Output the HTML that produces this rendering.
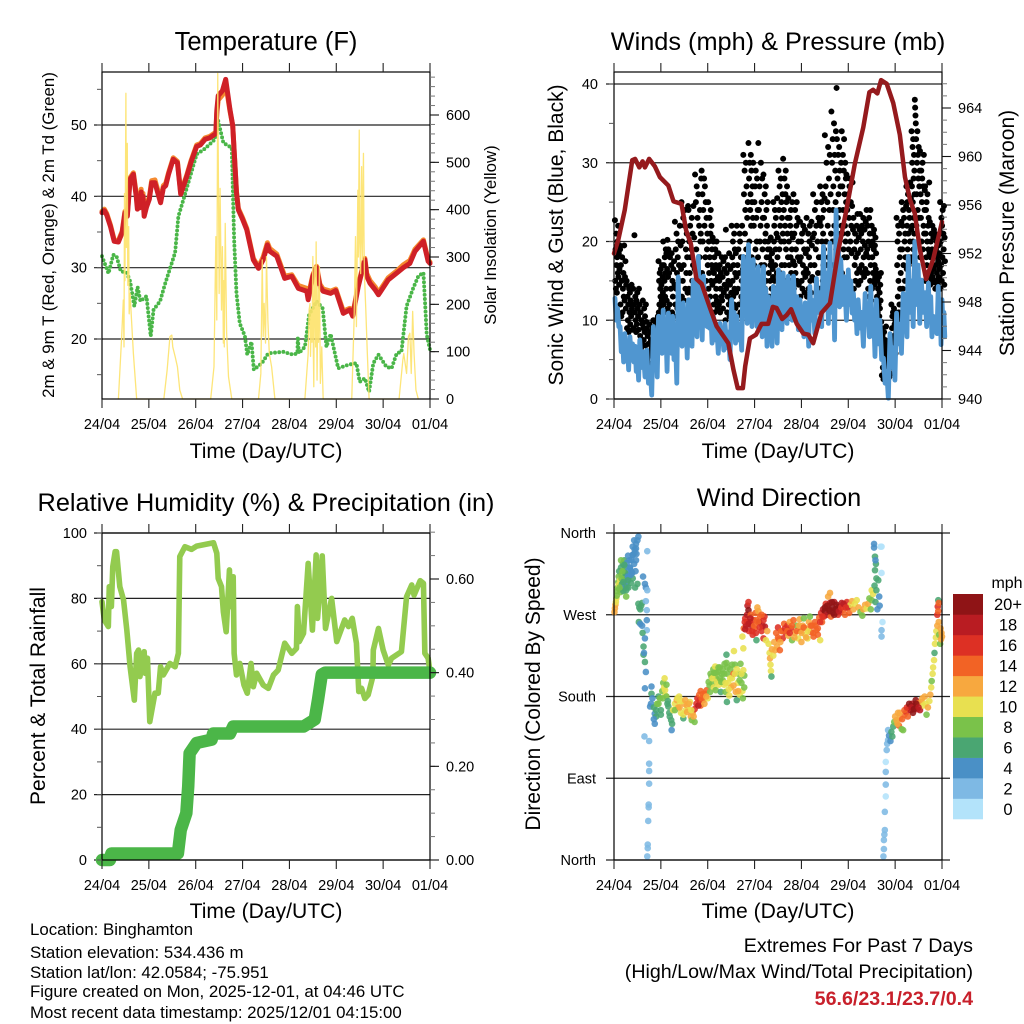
<!DOCTYPE html>
<html lang="en">
<head>
<meta charset="utf-8">
<title>Binghamton Station Meteogram</title>
<style>
html,body{margin:0;padding:0;background:#fff;}
svg{display:block;font-family:"Liberation Sans",Arial,sans-serif;fill:#000;}
</style>
</head>
<body>
<svg id="chart" width="1024" height="1024" viewBox="0 0 1024 1024" xmlns="http://www.w3.org/2000/svg">
<rect x="0" y="0" width="1024" height="1024" fill="#fff"/>
<g id="p1"></g>
<g id="p2"></g>
<g id="p3"></g>
<g id="p4"></g>
<g id="cbar"></g>

<text x="266" y="50" font-size="25.5" text-anchor="middle">Temperature (F)</text>
<text x="778" y="50" font-size="25.3" text-anchor="middle">Winds (mph) &amp; Pressure (mb)</text>
<text x="266" y="511" font-size="25.3" text-anchor="middle">Relative Humidity (%) &amp; Precipitation (in)</text>
<text x="779" y="506" font-size="25.3" text-anchor="middle">Wind Direction</text>

<text x="266" y="458" font-size="21.1" text-anchor="middle">Time (Day/UTC)</text>
<text x="778" y="458" font-size="21.1" text-anchor="middle">Time (Day/UTC)</text>
<text x="266" y="918" font-size="21.1" text-anchor="middle">Time (Day/UTC)</text>
<text x="778" y="918" font-size="21.1" text-anchor="middle">Time (Day/UTC)</text>

<text transform="translate(54,235) rotate(-90)" font-size="16.9" text-anchor="middle">2m &amp; 9m T (Red, Orange) &amp; 2m Td (Green)</text>
<text transform="translate(496,235) rotate(-90)" font-size="16.8" text-anchor="middle">Solar Insolation (Yellow)</text>
<text transform="translate(563,235) rotate(-90)" font-size="21" text-anchor="middle">Sonic Wind &amp; Gust (Blue, Black)</text>
<text transform="translate(1014,233) rotate(-90)" font-size="21" text-anchor="middle">Station Pressure (Maroon)</text>
<text transform="translate(45,696) rotate(-90)" font-size="21" text-anchor="middle">Percent &amp; Total Rainfall</text>
<text transform="translate(540,694) rotate(-90)" font-size="21" text-anchor="middle">Direction (Colored By Speed)</text>

<g font-size="16.85">
<text x="30" y="935">Location: Binghamton</text>
<text x="30" y="958">Station elevation: 534.436 m</text>
<text x="30" y="978">Station lat/lon: 42.0584; -75.951</text>
<text x="30" y="997">Figure created on Mon, 2025-12-01, at 04:46 UTC</text>
<text x="30" y="1018">Most recent data timestamp: 2025/12/01 04:15:00</text>
</g>
<g font-size="19.65" text-anchor="end">
<text x="973" y="952">Extremes For Past 7 Days</text>
<text x="973" y="978">(High/Low/Max Wind/Total Precipitation)</text>
<text x="973" y="1005" font-weight="bold" style="fill:#c8202b">56.6/23.1/23.7/0.4</text>
</g>
</svg>

<script>
const xTickLabels = ['24/04','25/04','26/04','27/04','28/04','29/04','30/04','01/04'];

const tempTicks = [20,30,40,50];
const solarTicks = [0,100,200,300,400,500,600];
const windTicks = [0,10,20,30,40];
const pressureTicks = [940,944,948,952,956,960,964];
const rhTicks = [0,20,40,60,80,100];
const precipTicks = ['0.00','0.20','0.40','0.60'];
const dirTickValues = [0,90,180,270,360];
const dirTickLabels = ['North','East','South','West','North'];

const tempDays = [0,.05,.1,.18,.26,.35,.43,.49,.54,.6,.67,.73,.755,.78,.81,.835,.85,.875,.9,.95,1.01,1.06,1.13,1.19,1.25,1.31,1.36,1.42,1.52,1.61,1.68,1.81,1.9,2.02,2.1,2.2,2.3,2.43,2.45,2.48,2.57,2.64,2.73,2.79,2.87,2.91,3.0,3.09,3.23,3.34,3.44,3.53,3.58,3.73,3.9,4.05,4.19,4.37,4.4,4.5,4.58,4.65,4.72,4.88,4.99,5.15,5.29,5.35,5.47,5.61,5.65,5.72,5.83,5.9,6.11,6.3,6.43,6.57,6.68,6.86,6.96,7];
const tempValues = [37.7,38,37.4,35.8,33.7,33.6,34.9,37.7,37.2,42.4,43.1,40,38.2,39.8,38.4,40.6,39,40,37.2,38.5,39.6,41.9,41.9,40.5,39.1,41.2,41.5,43.1,45.2,44.7,40.3,42.8,44.8,47,47.2,48,48.2,48.8,52,54.1,54.8,56.4,52.2,49.9,40.5,38.1,36.8,35.3,31.1,29.9,31.1,33.2,32.3,31.6,28.5,28.8,27.1,26.7,25.5,28.8,30,27.4,26.7,26.4,26.8,23.6,24.1,23.2,27.4,31.1,28.8,27.8,26.9,26.2,28.3,29.3,30,30.6,32.3,33.7,30.9,30.6];
const temp9mValues = [37.9,38.2,37.6,36,33.9,33.8,35.1,37.9,37.4,42.6,43.3,40.4,38.7,40.2,39,41,39.5,40.4,37.6,38.9,39.9,42.2,42.3,40.9,39.4,41.5,41.8,43.3,45.4,44.9,40.5,43,45,47.2,47.4,48.2,48.4,49,51.6,53.5,54.2,55.8,52,49.9,40.7,38.3,37,35.5,31.3,30.1,31.5,33.5,32.7,31.9,28.8,29,27.5,27.1,26,29,30.2,27.7,27,26.7,27,23.9,24.3,23.4,27.6,31.3,29.2,28.2,27.3,26.5,28.6,29.6,30.4,31,32.6,33.9,31.1,30.8];
const dewDays = [0,.14,.24,.31,.4,.53,.6,.69,.76,.82,.95,1.04,1.1,1.24,1.34,1.56,1.63,1.74,2.02,2.2,2.41,2.48,2.59,2.77,2.82,2.87,2.94,3.05,3.1,3.19,3.24,3.41,3.55,3.87,4.08,4.17,4.18,4.2,4.33,4.42,4.58,4.71,4.79,4.88,5.04,5.26,5.43,5.5,5.61,5.7,5.79,5.9,6.07,6.18,6.29,6.39,6.5,6.64,6.75,6.86,6.91,6.93,7];
const dewValues = [31.6,29.2,31.8,31.6,29.5,29.3,28.1,24.6,27.3,25.3,26,20.4,24.1,25.3,27.6,32.1,37.2,39.6,45.9,46.7,48,50.6,47.5,46.8,33.9,26.4,22.2,20.4,17.8,19.6,15.7,16.6,18,18.2,17.8,18,20.3,18,18.9,23.4,25.3,24.3,18.9,20.7,15.9,16.4,16.6,14,14.5,12.6,16.6,17.8,16.1,15.9,18,18.2,24.6,27.1,28.8,29.3,23.2,20.6,18.5];
const solarDays = [.35,.42,.455,.47,.48,.49,.51,.52,.54,.55,.57,.58,.6,.63,.67,.74,.741, 1.32,1.39,1.45,1.49,1.51,1.56,1.61,1.66,1.72,1.721, 2.32,2.39,2.43,2.45,2.47,2.5,2.52,2.55,2.57,2.59,2.6,2.61,2.63,2.66,2.7,2.77,2.771, 3.34,3.39,3.42,3.44,3.46,3.49,3.51,3.54,3.57,3.62,3.69,3.691, 4.33,4.4,4.42,4.44,4.45,4.47,4.48,4.5,4.51,4.52,4.53,4.54,4.56,4.57,4.59,4.61,4.62,4.64,4.66,4.69,4.72,4.721, 5.33,5.38,5.41,5.43,5.46,5.47,5.49,5.5,5.52,5.53,5.54,5.55,5.56,5.57,5.58,5.59,5.6,5.63,5.66,5.7,5.701, 6.34,6.42,6.44,6.5,6.54,6.57,6.6,6.63,6.66,6.7,6.75];
const solarValues = [0,132,209,110,434,250,646,320,540,240,364,180,223,167,96,0,0, 0,61,132,135,110,90,68,19,0,0, 0,68,343,167,688,223,445,188,322,118,250,110,371,139,47,0,0, 0,54,294,132,202,118,301,167,96,68,0,0, 0,96,188,202,90,190,120,301,100,26,200,280,110,332,40,237,120,280,33,110,0,0, 0,167,343,153,441,300,568,330,265,420,491,340,294,440,519,360,265,188,103,0,0, 0,82,96,54,132,139,54,185,96,19,0];

const gustColumnDays = [.02,.13,.27,.41,.55,.70,.84,.95,1.05,1.16,1.30,1.44,1.59,1.73,1.87,2.01,2.12,2.23,2.37,2.51,2.62,2.76,2.87,2.97,3.08,3.19,3.29,3.40,3.51,3.61,3.72,3.83,3.97,4.11,4.25,4.40,4.50,4.64,4.75,4.86,4.96,5.11,5.25,5.39,5.50,5.60,5.71,5.82,5.92,6.03,6.14,6.24,6.35,6.42,6.53,6.64,6.74,6.85,6.96];
const gustColumns = [
[22.7,15,19,14,21,17,13.5,18,20,16,22,15.5,18.5,14.5,16.5,19.5],
[19,12,17,10.5,15,18,11,14,16,13,19.5,12.5,15.5,17.5,11.5,14.5],
[15,9,13,10,12,8.5,14,11,13.5,9.5,12.5,10.5,14.5,11.5,8.8,12],
[14,9,12,20.8,11,13,10,8.5,12.5,9.5,13.5,11.5,10.5,8.8,14,12],
[12,8,11,6.5,10,7,9.5,12.5,9,7.5,11.5,8.5,10.5,6.8,12,9.8],
[9,5,8,4,7,3.7,6,9.5,8.5,5.5,7.5,4.5,6.5,4.2,9,7],
[10,6,9,7,8,6.5,10,8,9.5,7.5,8.5,6.2,9,7,10.5,8],
[17.5,11,15,12,16,10,14,13,16.5,11.5,14.5,12.5,17,10.5,15.5,13.5],
[20,12,17,11,15,18,13,16,19,14,18.5,12.5,16.5,20.2,11.5,15.5],
[19,10,16,12,18,9.5,14,17,18.5,11,15,13,16.5,10.5,17.5,14.5],
[22.5,12,19,14,21,16,11.5,18,20,13,17,15,22,12.5,19.5,16.5],
[25,13,20,15,23,17,12.5,22,24,14,19,16,21,18,13.5,24.5],
[24,14,20,16,22,18,13.5,19,23,15,21,17,24.5,14.5,20.5,16.5],
[28.5,15,25,19,27,17,23,14,26,16,22,18,24,20,21,28],
[29,16,26,20,24,14,28,22,27,18,25,15,23,19,21,17],
[25,14,20,16,23,18,13,21,24,15,22,17,19,14.5,20.5,16.5],
[20,12,16,18,11,15,19,13,17,14,20,12.5,18.5,11.5,15.5,16.5],
[18.5,12,15,17,11,14,16,13,18,12.5,15.5,11.5,17.5,13.5,16.5,14.5],
[18,10,21.5,14,16,11,13,17,15,12,18.5,10.5,14.5,16.5,12.5,13.5],
[22,11,18,15,20,13,17,12,21,14,19,16,11.5,18.5,13.5,15.5],
[22,10.5,17,14,19,12,16,21,20,11,18,13,15,22,12.5,16.5],
[31,12,26,17,29,21,24,15,30,19,27,14,23,18,25,13],
[32.5,14,28,20,30,17,24,26,31,22,29,18,25,15,27,23],
[30,11,22,17,25,13,27,19,29,15,23,20,28,12,24,18],
[32.5,10,24,15,27,20,12,22,30,17,25,13,28,19,23,14],
[28.5,12,23,17,26,20,14,21,27,15,24,18,22,13,25,19],
[20,11,16,18,13,19,15,17,20.5,12,17.5,14,18.5,11.5,16.5,15.5],
[25,13,20,22,15,24,17,19,23,14,21,16,25.5,18,20.5,13.5],
[29,13,24,19,27,16,22,14,28,20,25,17,23,15,26,21],
[30.5,14,24,20,28,17,22,26,29,19,25,15,27,21,23,18],
[25.5,14,20,17,23,15,22,18,24,16,21,19,25,14.5,20.5,17.5],
[26,14,21,17,24,16,19,22,25,15,23,18,20,14.5,22.5,17.5],
[22.5,13,18,20,15,21,14,17,22,16,19,13.5,21.5,15.5,18.5,16.5],
[23,13,19,16,21,14,18,20,22,15,17,13.5,22.5,19.5,15.5,20.5],
[26,12,21,17,24,15,19,22,25,13,20,16,23,18,14,22.5],
[27,14,22,18,25,16,20,23,26,15,21,17,24,19,14.5,25.5],
[33.5,15,27,20,30,17,25,22,32,18,28,24,31,16,26,21],
[36.5,13,30,20,33,24,27,17,35,22,31,15,29,25,34,19],
[39.5,33,18,28,23,31,26,20,32,24,29,17,27,21,30,22],
[34,16,27,21,31,24,19,29,33,18,26,22,30,20,28,25],
[28.5,18,24,21,26,19,23,27,28,20,25,22,18.5,24.5,27.5,21.5],
[23,14,19,17,21,15,18,20,22,16,23.5,18.5,14.5,20.5,16.5,21.5],
[23.5,15,19,21,17,22,16,20,23,18,15.5,21.5,19.5,16.5,22.5,18.5],
[24,12,19,16,22,14,20,18,23,13,21,15,24,17,19.5,12.5],
[22,14,18,20,16,21,15,19,21.5,14.5,17,19.5,15.5,20.5,16.5,18.5],
[16,10,13,15,11,14,9.5,12,15.5,10.5,13.5,11.5,14.5,12.5,16,9.8],
[9,3,6,8,4,7,2.5,5,8.5,3.5,6.5,7.5,4.5,5.5,9.2,2.8],
[7,3,5,6,2.5,4,6.5,3.5,6.8,2.8,5.5,4.5,6.2,3.2,5,4],
[12,5.5,9,10.5,7,11,6,8,11.5,6.5,9.5,7.5,10,5.8,11,8.5],
[23,10,17,20,13,22,15,11,21,12,18,14,19,16,10.5,22.5],
[25,10,19,22,14,24,17,12,23,11,20,15,21,18,13,24.5],
[27,16.5,22,25,19,26,21,17,24,18,23,20,27.5,17.5,25.5,21.5],
[34,18,27,30,22,32,25,20,33,19,28,23,31,21,29,26],
[38,37,36,35,33,22,26,30,34,24,31,28,32,23,27,29],
[31.5,18,26,23,29,20,25,28,30,19,27,22,31,21,24,26.5],
[27,15,21,24,18,25,17,20,26,16,22,19,23,15.5,27.5,18.5],
[22.5,14.5,18,20,16,21,15,19,22,15.5,17,20.5,16.5,21.5,14.8,18.5],
[21,14,17,19,15,20,16,18,20.5,14.5,17.5,19.5,15.5,18.5,16.5,21],
[25,14,20,17,23,15,22,18,24,16,21,19,24.5,14.5,20.5,17.5]
];

const windColumnDays = [.02,.13,.23,.34,.45,.55,.70,.84,.95,1.05,1.16,1.25,1.37,1.48,1.59,1.69,1.80,1.91,2.01,2.12,2.26,2.37,2.51,2.62,2.76,2.87,2.97,3.08,3.19,3.29,3.40,3.51,3.61,3.72,3.83,3.97,4.08,4.18,4.32,4.47,4.61,4.74,4.84,5.00,5.11,5.21,5.36,5.48,5.60,5.75,5.89,6.03,6.17,6.28,6.42,6.56,6.71,6.81,6.92,7.00];
const windColumns = [
[12.8,10,11.5,9.2],[9.2,6,8,4.7],[8.3,5,7,3.7],[7.9,5.5,7,4.7],[6.7,3.5,5.5,2.4],[7.5,4,6,2.8],[6.2,2,4,0.5],[9.2,5,8,2.8],
[10.5,7,9,5.8],[11.3,6,9.5,3.5],[10.9,7,9,5.8],[10.5,5,8,2],[15.5,9,12,6.7],[12.2,7.5,10.5,5.2],[12.6,8,11,6.7],[15.1,10,13,7.9],
[18.1,10,15,7.5],[15.6,11,13,9.2],[12.6,9,11,7.1],[10.5,7.5,9.5,5.8],[9.6,7.5,9,6.2],[9.6,6.5,8.5,5],[12.6,9,11,7.1],[10.5,7.5,9.5,6.2],
[18.1,12,16,9.6],[19.6,12,17,9.2],[17.7,11,15,9.2],[16.8,10,14,7.9],[16.8,9,14,6.7],[13,8.5,11,6.7],[14.3,9,12,7.1],[16.4,10.5,14,8.8],
[16,11,14,9.6],[15.6,11.5,13.5,10],[15.6,10.5,13,8.8],[12.6,9.5,11.5,7.9],[12.2,8.5,11,6.7],[14.3,10,12.5,8.3],[15.3,11,13.5,9.2],[19.4,12,16,9.6],
[19.8,11,16,7.5],[24,15,20,11.7],[17.7,12,15.5,10],[16.4,12,15,10.9],[13.4,10,12,8.3],[12.6,9,11,6.7],[13.4,9.5,12,7.9],[14.3,8,11,5.4],
[12.6,7,10,5],[5.2,2,3.5,0.1],[8.3,4,6.5,2.4],[10.9,7,9.5,5.8],[13.4,9.5,12,7.9],[18.1,11,15,9.2],[20,12,17,9.6],[15.1,11,13.5,9.2],
[14.7,10,13,7.9],[10.5,9,10,8.3],[14.3,9,12.5,6.9],[12.6,9.5,11,7.9]
];

const pressureDays = [0,.09,.23,.39,.45,.54,.61,.66,.75,.87,.98,1.16,1.27,1.44,1.54,1.64,1.76,1.87,2.05,2.19,2.44,2.55,2.64,2.75,2.8,2.9,3.03,3.15,3.29,3.39,3.47,3.59,3.68,3.78,3.9,4.04,4.15,4.25,4.43,4.61,4.79,4.96,5.14,5.32,5.45,5.53,5.62,5.7,5.82,5.96,6.1,6.21,6.32,6.42,6.53,6.66,6.81,7];
const pressureValues = [952,953.1,955.6,959.7,959.8,959.1,959.6,959.1,959.8,959.2,958.3,957.6,956.3,956.1,953.9,952.8,949.9,949.5,947.5,946,944.6,942.4,940.9,940.9,942.7,945,945.3,946.2,946.2,947.6,947.5,946.6,946.9,947.4,946.2,945.4,945.3,944.6,947.1,947.9,952.3,955.6,959.4,962.4,965.3,965.5,965.2,966.3,966,964.4,961.8,958.3,956.4,955.3,952.3,949.9,951.5,954.6];

const rhDays = [0,.05,.135,.155,.2,.23,.28,.31,.38,.46,.53,.6,.69,.74,.78,.81,.9,.92,.97,1.02,1.13,1.2,1.25,1.31,1.45,1.56,1.63,1.66,1.77,1.91,2.02,2.38,2.45,2.48,2.55,2.59,2.65,2.72,2.74,2.8,2.82,2.87,2.94,3.03,3.1,3.18,3.23,3.3,3.44,3.55,3.66,3.76,3.9,4.05,4.15,4.17,4.21,4.3,4.4,4.49,4.57,4.6,4.7,4.77,4.9,5.01,5.18,5.26,5.34,5.43,5.48,5.54,5.61,5.68,5.78,5.79,5.9,6,6.11,6.18,6.39,6.5,6.61,6.66,6.79,6.86,6.89,6.96,7];
const rhValues = [79,73.4,71.4,83.6,77.5,89.7,94.3,94.3,83.6,79.5,70.3,59.1,48.9,63.2,64.2,56.1,63.7,57.1,61.7,42.3,51,51,59.1,56.6,60.1,59.1,63.2,92.8,95.8,95,96,97,93.8,86.1,83.6,75.9,69.8,88.7,77.5,86.6,63.2,56.6,60.1,53.5,51,60.1,53,57.1,53.5,52.5,56.6,58.1,66.3,63.2,64.7,77.5,66.8,69.3,90.7,70.3,93.3,73.9,93,70.8,80,66.8,73.4,71.4,73.9,66.3,51.5,52.5,49.4,50.5,56.1,64.2,70.8,64.2,59.6,61.7,63.7,80.5,84.1,81,85.4,84.6,63.2,61.7,57.6];
const precipDays = [0,.17,.2,1.62,1.68,1.8,1.84,1.87,2.02,2.34,2.37,2.73,2.8,4.3,4.54,4.61,4.69,4.76,7];
const precipValues = [0,0,.014,.014,.064,.1,.157,.228,.25,.257,.27,.27,.285,.285,.3,.342,.396,.4,.4];

const windDirDays = [
.01,.02,.03,.04,.05,.06,.07,.08,.09,.1,
.1,.11,.12,.13,.14,.15,.16,.17,.18,.19,
.2,.2,.21,.22,.23,.24,.25,.26,.27,.28,
.29,.3,.31,.32,.4,.34,.44,.36,.37,.47,
.39,.4,.5,.52,.43,.47,.45,.46,.48,.5,
.52,.54,.56,.58,.6,.53,.56,.6,.62,.66,
.68,.71,.71,.68,.7,.7,.7,.61,.66,.63,
.63,.66,.68,.64,.66,.65,.75,.75,.75,.75,
.74,.74,.73,.72,.72,.71,.8,.8,.77,.82,
.79,.85,.87,.87,.9,.92,.95,.98,1.0,1.03,
1.05,1.07,1.09,1.1,1.12,1.14,1.16,1.18,1.22,1.23,
1.26,1.3,1.34,1.37,1.39,1.41,1.43,1.48,1.5,1.53,
1.56,1.6,1.62,1.64,1.66,1.68,1.72,1.72,1.76,1.78,
1.82,1.85,1.88,1.9,1.85,1.95,1.98,2.0,2.04,2.08,
2.05,2.1,2.12,2.13,2.15,2.16,2.17,2.19,2.22,2.24,
2.26,2.28,2.3,2.32,2.35,2.36,2.38,2.4,2.4,2.41,
2.42,2.44,2.46,2.48,2.5,2.52,2.55,2.56,2.58,2.6,
2.62,2.64,2.66,2.68,2.7,2.72,2.74,2.76,2.76,2.78,
2.74,2.77,2.79,2.8,2.82,2.84,2.85,2.87,2.87,2.88,
2.9,2.92,2.94,2.96,2.98,3.0,3.02,3.04,3.04,3.06,
3.08,3.1,3.12,3.15,3.17,3.19,3.19,3.21,3.22,3.24,
3.27,3.3,3.32,3.33,3.34,3.35,3.36,3.37,3.4,3.42,
3.44,3.46,3.48,3.5,3.52,3.54,3.57,3.6,3.63,3.66,
3.7,3.72,3.75,3.78,3.8,3.83,3.86,3.9,3.93,3.96,
3.98,4.0,4.03,4.05,4.08,4.1,4.13,4.16,4.18,4.2,
4.23,4.26,4.29,4.32,4.35,4.38,4.4,4.42,4.44,4.46,
4.48,4.5,4.52,4.55,4.57,4.59,4.61,4.61,4.63,4.66,
4.68,4.7,4.72,4.75,4.78,4.8,4.83,4.86,4.9,4.93,
4.97,5.0,5.02,5.05,5.08,5.11,5.14,5.18,5.22,5.26,
5.3,5.32,5.36,5.39,5.42,5.45,5.48,5.5,5.5,5.53,
5.56,5.58,5.6,5.6,5.62,5.64,5.66,5.67,5.57,5.59,
5.57,5.58,5.55,5.55,5.71,5.69,5.71,5.73,5.71,5.71,
5.75,5.76,5.76,5.77,5.78,5.78,5.8,5.8,5.8,5.8,
5.82,5.83,5.85,5.85,5.87,5.9,5.92,5.94,5.96,5.98,
6.0,6.03,6.06,6.08,6.1,6.14,6.17,6.2,6.24,6.27,
6.3,6.33,6.36,6.38,6.42,6.44,6.47,6.5,6.53,6.56,
6.58,6.6,6.63,6.65,6.67,6.7,6.73,6.75,6.77,6.78,
6.8,6.81,6.83,6.84,6.85,6.87,6.88,6.9,6.9,6.91,
6.92,6.93,6.94,6.96,6.97,6.98,6.99,6.92,6.93,7.0,
.12,.16,.2,.24,.27,.3,.34,.37,.4,.44,
.15,.18,.22,.26,.3,.33,.36,.4,.43,.47,
.85,.9,.95,1.0,1.04,1.08,1.12,1.15,1.19,1.24,
1.3,1.35,1.4,1.44,1.48,1.52,1.56,1.6,1.65,1.7,
1.8,1.83,1.87,1.9,1.93,1.97,2.02,2.06,2.1,2.14,
2.18,2.2,2.23,2.26,2.29,2.32,2.35,2.38,2.42,2.45,
2.48,2.52,2.55,2.58,2.62,2.65,2.68,2.72,2.75,2.78,
2.8,2.84,2.87,2.91,2.95,2.99,3.03,3.07,3.11,3.15,
3.5,3.55,3.6,3.65,3.7,3.75,3.8,3.85,3.9,3.95,
4.0,4.05,4.1,4.15,4.2,4.25,4.3,4.35,4.4,4.45,
4.5,4.55,4.6,4.65,4.7,4.75,4.8,4.85,4.9,4.95,
6.05,6.1,6.15,6.2,6.25,6.3,6.35,6.4,6.45,6.5
];
const windDirValues = [
273,277,281,284,288,291,296,300,306,303,
312,318,298,308,295,322,314,304,300,326,
296,318,308,330,302,323,313,297,327,306,
318,335,300,312,336,322,342,305,330,348,
316,336,352,356,326,343,300,318,337,304,
282,278,276,280,283,262,260,258,312,304,
300,297,340,285,275,264,253,250,244,235,
226,218,207,228,189,136,131,106,98,84,
61,58,43,17,13,4,191,183,169,178,
172,168,161,150,158,172,180,178,165,186,
195,190,187,181,180,172,169,162,154,143,
165,172,176,168,180,174,162,156,172,165,
170,165,174,158,154,162,152,166,172,178,
182,186,180,176,170,183,187,178,192,202,
185,194,210,190,203,213,187,199,207,193,
212,185,205,198,193,216,185,226,217,174,
205,195,181,210,190,200,205,230,215,185,
176,195,205,182,216,195,186,209,233,203,
246,255,262,266,258,270,280,284,275,252,
262,270,258,248,264,255,272,264,242,278,
274,262,268,252,258,264,244,268,257,242,
252,238,228,222,215,208,202,232,225,240,
231,250,235,256,243,231,252,244,260,250,
258,247,262,255,242,264,250,258,244,265,
252,240,258,266,248,255,244,262,268,251,
258,246,262,253,248,267,242,272,262,276,
268,274,282,270,290,276,283,294,268,278,
272,284,276,281,270,279,273,283,276,270,
284,278,272,281,285,276,282,286,278,273,
269,276,281,277,282,288,276,297,286,293,
302,284,297,310,276,308,290,280,319,326,
334,330,348,344,345,345,316,262,253,246,
4,12,22,28,33,53,70,83,97,108,
121,128,132,143,137,131,141,136,147,152,
158,154,162,148,156,144,143,160,163,158,
168,165,172,162,170,176,166,173,165,174,
178,170,180,172,160,168,175,182,190,197,
205,212,220,228,238,245,252,258,270,279,
286,262,248,238,255,243,250,274,283,246,
300,310,306,316,300,312,322,318,310,338,
330,318,325,290,308,330,314,345,352,330,
155,165,172,160,178,200,193,175,158,150,
165,178,168,175,160,176,163,172,165,158,
170,176,178,183,172,180,196,205,200,206,
206,196,212,200,196,210,205,195,212,188,
200,215,192,205,210,186,198,205,178,190,
254,262,260,266,252,258,250,262,256,270,
245,240,252,255,252,250,258,245,252,258,
250,256,245,252,258,250,258,255,262,268,
278,280,274,284,270,276,274,278,282,278,
150,162,155,165,168,172,168,166,172,168
];
const windDirSpeeds = [
12,12,12,10,10,8,8,8,8,10,
8,6,8,10,8,6,8,6,6,6,
6,8,6,6,4,6,6,6,4,4,
4,4,6,4,4,4,4,6,4,4,
4,4,4,4,4,4,6,4,4,6,
6,6,6,6,6,6,4,4,4,4,
4,2,2,2,2,4,2,6,4,6,
6,6,4,4,4,2,2,2,2,2,
2,2,2,2,2,2,4,6,4,4,
4,6,4,4,6,8,6,8,6,8,
8,10,10,10,8,6,6,6,6,4,
10,10,12,12,10,10,10,6,12,10,
12,10,10,12,8,12,8,16,16,16,
14,14,12,14,14,14,14,10,8,8,
8,8,8,10,10,10,8,8,8,10,
8,6,8,8,10,8,8,6,8,6,
8,10,10,8,12,10,14,10,8,12,
6,10,8,10,8,8,10,10,10,8,
10,14,16,16,18,18,18,16,20,16,
16,14,18,16,16,14,14,14,6,12,
12,18,14,16,18,16,16,16,18,10,
12,10,10,12,10,10,6,12,10,12,
12,14,12,16,14,14,14,16,14,16,
16,12,12,16,8,14,12,8,10,12,
14,12,12,8,10,12,10,12,8,14,
14,14,14,14,14,14,10,16,14,18,
16,20,16,18,12,20,18,12,14,20,
20,18,20,20,16,20,16,18,14,14,
16,18,14,10,12,12,10,10,12,8,
8,12,12,10,12,8,8,10,8,10,
6,6,6,6,4,6,4,4,6,6,
6,4,4,4,0,0,0,0,2,2,
2,2,2,2,2,2,0,2,2,0,
2,2,2,2,4,4,6,6,6,8,
12,12,12,14,12,8,8,14,16,14,
18,18,18,20,20,20,18,14,18,12,
12,10,12,10,8,12,10,12,10,8,
10,10,10,6,10,10,10,12,16,16,
6,12,8,8,12,12,12,14,14,12,
8,8,6,6,6,4,4,4,6,4,
8,8,6,8,6,4,4,4,4,4,
4,6,8,6,8,10,8,6,6,6,
8,10,12,10,10,12,12,12,10,12,
18,16,14,14,12,12,8,8,10,8,
8,10,8,8,8,8,8,10,8,10,
10,8,12,10,10,12,8,10,8,8,
18,16,18,18,16,14,16,14,16,14,
14,12,14,16,14,16,14,12,14,12,
12,14,12,10,14,14,14,14,16,16,
20,20,20,20,20,20,18,16,18,16,
12,12,14,14,16,20,18,20,20,18
];

const speedLabels = ['0','2','4','6','8','10','12','14','16','18','20+'];
const speedColors = ['#b3e3fa','#7eb9e4','#4a90c6','#4aa672','#7ac24a','#e8e050','#f7a83f','#f26325','#dd3024','#b91c22','#8f1416'];

const SVGNS = 'http://www.w3.org/2000/svg';
function el(tag, attrs, parent) {
  const node = document.createElementNS(SVGNS, tag);
  for (const k in attrs) node.setAttribute(k, attrs[k]);
  parent.appendChild(node);
  return node;
}
function scale(d0, d1, r0, r1) {
  return function (v) { return r0 + (v - d0) / (d1 - d0) * (r1 - r0); };
}
function linePath(xs, ys, sx, sy) {
  let d = '';
  for (let i = 0; i < xs.length; i++) {
    d += (i ? 'L' : 'M') + sx(xs[i]).toFixed(2) + ' ' + sy(ys[i]).toFixed(2);
  }
  return d;
}
function expandColumns(days, cols) {
  const xs = [], ys = [];
  cols.forEach(function (col, i) {
    const d0 = days[i];
    const d1 = i + 1 < days.length ? days[i + 1] : days[i] + (days[i] - days[i - 1]);
    col.forEach(function (v, j) {
      xs.push(d0 + (d1 - d0) * j / col.length);
      ys.push(v);
    });
  });
  return { xs: xs, ys: ys };
}
function seriesPath(parent, name, d, color, width, extra) {
  const p = el('path', Object.assign({ d: d, fill: 'none', stroke: color, 'stroke-width': width, 'stroke-linejoin': 'round', 'stroke-linecap': 'round' }, extra || {}), parent);
  
  
  return p;
}

function drawFrameBelow(g, x0, x1, y0, y1, sy, majors, gridRight) {
  majors.forEach(function (v) {
    const y = sy(v);
    const line = el('line', { x1: x0 - 8, x2: gridRight, y1: y, y2: y, stroke: '#222', 'stroke-width': 1.2 }, g);
    
    
  });
}
function drawFrameAbove(g, x0, x1, y0, y1) {
  const frame = el('rect', { x: x0, y: y0, width: x1 - x0, height: y1 - y0, fill: 'none', stroke: '#000', 'stroke-width': 1.2 }, g);
  
  
  const sx = scale(0, 7, x0, x1);
  xTickLabels.forEach(function (label, i) {
    const x = sx(i);
    const top = el('line', { x1: x, x2: x, y1: y0 - 9, y2: y0, stroke: '#222', 'stroke-width': 1.1 }, g);
    
    
    const bottom = el('line', { x1: x, x2: x, y1: y1, y2: y1 + 9, stroke: '#222', 'stroke-width': 1.1 }, g);
    
    
    const text = el('text', { x: x, y: y1 + 30, 'font-size': 14.5, 'text-anchor': 'middle' }, g);
    text.textContent = label;
    
    
  });
}
function leftLabels(g, x0, sy, values, labels, labelX) {
  values.forEach(function (v, i) {
    const text = el('text', { x: labelX, y: sy(v) + 5, 'font-size': 14.5, 'text-anchor': 'end' }, g);
    text.textContent = labels[i];
    
    
  });
}
function leftMinor(g, x0, sy, from, to, step) {
  for (let v = from; v <= to + 1e-6; v += step) {
    const tick = el('line', { x1: x0 - 5, x2: x0, y1: sy(v), y2: sy(v), stroke: '#555', 'stroke-width': 1 }, g);
    
    
  }
}
function rightAxis(g, x1, sy, values, labels, from, to, step) {
  for (let v = from; v <= to + 1e-6; v += step) {
    const tick = el('line', { x1: x1, x2: x1 + 5, y1: sy(v), y2: sy(v), stroke: '#777', 'stroke-width': 1 }, g);
    
    
  }
  values.forEach(function (v, i) {
    const y = sy(v);
    const tick = el('line', { x1: x1, x2: x1 + 9, y1: y, y2: y, stroke: '#111', 'stroke-width': 1.1 }, g);
    
    
    const text = el('text', { x: x1 + 16, y: y + 5, 'font-size': 14.5 }, g);
    text.textContent = labels[i];
    
    
  });
}

/* Panel 1: temperature */
(function () {
  const g = document.getElementById('p1');
  const x0 = 102, x1 = 430, y0 = 72, y1 = 399;
  const sx = scale(0, 7, x0, x1);
  const sy = scale(20, 50, 339, 125);
  const sSolar = scale(0, 600, 399, 115);
  drawFrameBelow(g, x0, x1, y0, y1, sy, tempTicks, x1);
  seriesPath(g, 'dewpoint-2m-line', linePath(dewDays, dewValues, sx, sy), '#4ab648', 3.9, { 'stroke-dasharray': '0 4.2' });
  seriesPath(g, 'temperature-9m-line', linePath(tempDays, temp9mValues, sx, sy), '#f58a30', 5);
  seriesPath(g, 'temperature-2m-line', linePath(tempDays, tempValues, sx, sy), '#cf2027', 5);
  seriesPath(g, 'solar-insolation-line', linePath(solarDays, solarValues, sx, sSolar), '#fde26a', 1.3, { opacity: 0.9 });
  drawFrameAbove(g, x0, x1, y0, y1);
  leftMinor(g, x0, sy, 15, 55, 5);
  leftLabels(g, x0, sy, tempTicks, tempTicks, 87);
  rightAxis(g, x1, sSolar, solarTicks, solarTicks, 0, 680, 20);
})();

/* Panel 2: winds and pressure */
(function () {
  const g = document.getElementById('p2');
  const x0 = 614, x1 = 942, y0 = 72, y1 = 399;
  const sx = scale(0, 7, x0, x1);
  const sy = scale(0, 40, 399, 84);
  const sP = scale(940, 964, 399, 108);
  drawFrameBelow(g, x0, x1, y0, y1, sy, windTicks, x1);
  const gust = expandColumns(gustColumnDays, gustColumns);
  const gustGroup = el('g', { fill: '#000' }, g);
  
  
  gust.xs.forEach(function (d, i) {
    const dot = el('circle', { cx: sx(d).toFixed(2), cy: sy(gust.ys[i]).toFixed(2), r: 3, style: 'fill:#000' }, gustGroup);
    
    
  });
  const wind = expandColumns(windColumnDays, windColumns);
  seriesPath(g, 'sonic-wind-line', linePath(wind.xs, wind.ys, sx, sy), '#5096d0', 4.8);
  seriesPath(g, 'station-pressure-line', linePath(pressureDays, pressureValues, sx, sP), '#951a1d', 4.5);
  drawFrameAbove(g, x0, x1, y0, y1);
  leftMinor(g, x0, sy, 0, 40, 5);
  leftLabels(g, x0, sy, windTicks, windTicks, 598);
  rightAxis(g, x1, sP, pressureTicks, pressureTicks, 940, 966, 1);
})();

/* Panel 3: humidity and precipitation */
(function () {
  const g = document.getElementById('p3');
  const x0 = 102, x1 = 430, y0 = 533, y1 = 860;
  const sx = scale(0, 7, x0, x1);
  const sy = scale(0, 100, 860, 533);
  const sR = scale(0, 0.6, 860, 579);
  drawFrameBelow(g, x0, x1, y0, y1, sy, rhTicks, x1);
  seriesPath(g, 'relative-humidity-line', linePath(rhDays, rhValues, sx, sy), '#93cb4f', 5.6);
  seriesPath(g, 'total-precipitation-line', linePath(precipDays, precipValues, sx, sR), '#4bb648', 12.5);
  drawFrameAbove(g, x0, x1, y0, y1);
  leftMinor(g, x0, sy, 0, 100, 10);
  leftLabels(g, x0, sy, rhTicks, rhTicks, 87);
  rightAxis(g, x1, sR, precipTicks.map(Number), precipTicks, 0, 0.7, 0.05);
})();

/* Panel 4: wind direction */
function speedColor(speed) {
  const bin = Math.max(0, Math.min(speedColors.length - 1, Math.floor(speed / 2)));
  return speedColors[bin];
}
(function () {
  const g = document.getElementById('p4');
  const x0 = 614, x1 = 942, y0 = 533, y1 = 860;
  const sx = scale(0, 7, x0, x1);
  const sy = scale(0, 360, 860, 533);
  drawFrameBelow(g, x0, x1, y0, y1, sy, dirTickValues, x1 + 8);
  windDirDays.forEach(function (d, i) {
    const fill = speedColor(windDirSpeeds[i]);
    const dot = el('circle', { cx: sx(d).toFixed(2), cy: sy(windDirValues[i]).toFixed(2), r: 3.3, style: 'fill:' + fill, 'fill-opacity': 0.88 }, g);
    
    
  });
  drawFrameAbove(g, x0, x1, y0, y1);
  leftLabels(g, x0, sy, dirTickValues, dirTickLabels, 596);
})();

/* Colorbar */
(function () {
  const g = document.getElementById('cbar');
  const cx0 = 953, cw = 30, top = 594, bottom = 819;
  const cell = (bottom - top) / speedLabels.length;
  speedLabels.forEach(function (label, i) {
    const y = bottom - (i + 1) * cell;
    const rect = el('rect', { x: cx0, y: y.toFixed(2), width: cw, height: (cell + 0.3).toFixed(2), style: 'fill:' + speedColors[i] }, g);
    
    
    const text = el('text', { x: 1008, y: (y + cell / 2 + 6).toFixed(2), 'font-size': 16.5, 'text-anchor': 'middle' }, g);
    text.textContent = label;
    
    
  });
  const unit = el('text', { x: 1007, y: 588, 'font-size': 16, 'text-anchor': 'middle' }, g);
  unit.textContent = 'mph';
  
  
})();
</script>
</body>
</html>
